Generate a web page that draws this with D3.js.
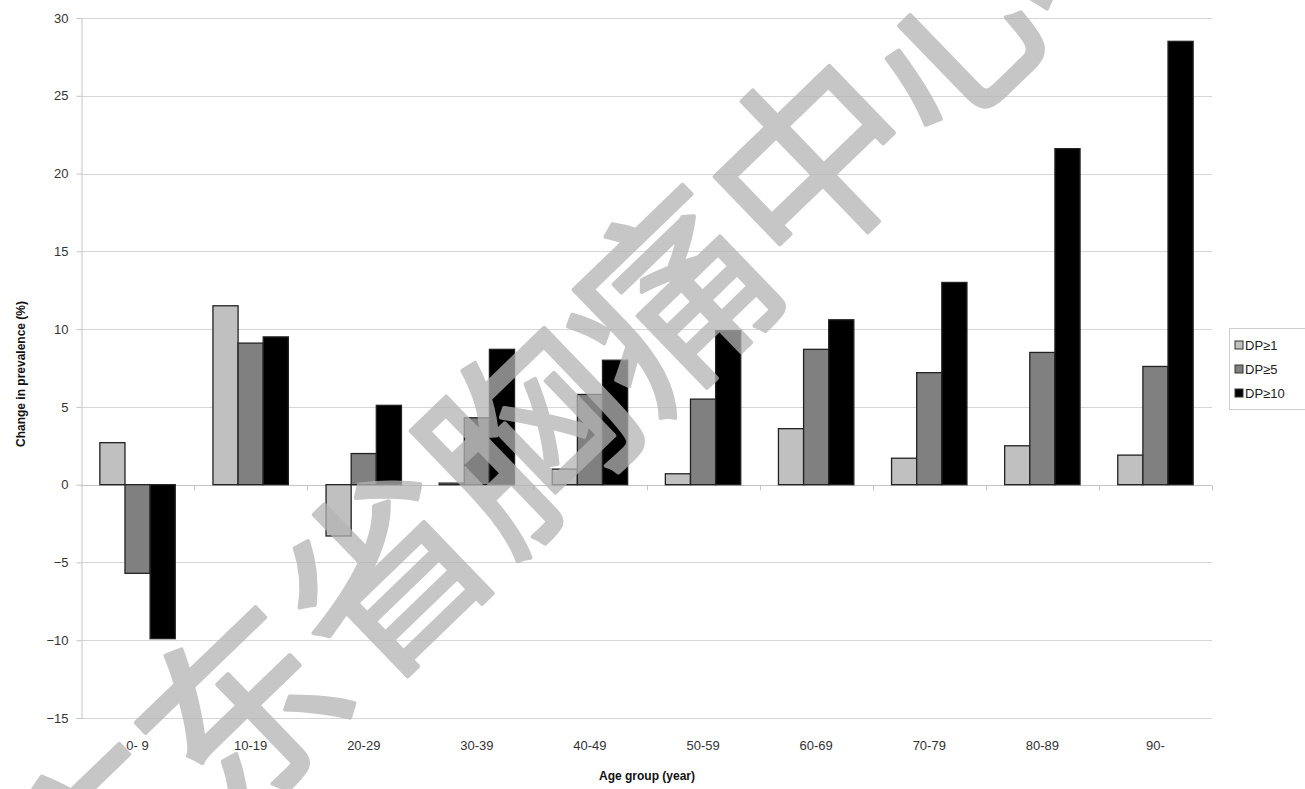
<!DOCTYPE html>
<html>
<head>
<meta charset="utf-8">
<script src="https://cdn.jsdelivr.net/npm/d3@7/dist/d3.min.js"></script>
<style>
  html, body { margin: 0; padding: 0; background: #fff; overflow: hidden; }
  svg { display: block; }
</style>
</head>
<body>
<script>
// Age groups on the x axis
const categories = ["0- 9", "10-19", "20-29", "30-39", "40-49", "50-59", "60-69", "70-79", "80-89", "90-"];
// Series names
const series = ["DP≥1", "DP≥5", "DP≥10"];
// Change in prevalence (%) per series
const dp1  = [2.7, 11.5, -3.3, 0.1, 1.0, 0.7, 3.6, 1.7, 2.5, 1.9];
const dp5  = [-5.7, 9.1, 2.0, 4.3, 5.8, 5.5, 8.7, 7.2, 8.5, 7.6];
const dp10 = [-9.9, 9.5, 5.1, 8.7, 8.0, 9.9, 10.6, 13.0, 21.6, 28.5];
const yTicks = [-15, -10, -5, 0, 5, 10, 15, 20, 25, 30];
const watermark = "广东省胸痛中心";

const values = [dp1, dp5, dp10];
const fills = ["#c0c0c0", "#808080", "#000000"];

const W = 1305, H = 789;
const svg = d3.select("body").append("svg").attr("width", W).attr("height", H);

const plotLeft = 81, plotRight = 1212, plotTop = 18, plotBottom = 718;

const y = d3.scaleLinear().domain([-15, 30]).range([plotBottom, plotTop]);
const x0 = d3.scaleBand().domain(categories).range([plotLeft, plotRight]).padding(0);
const x1 = d3.scaleBand().domain(series).range([0, x0.bandwidth()]).paddingInner(0).paddingOuter(0.75);

const font = "'Liberation Sans', Arial, sans-serif";

// horizontal gridlines
svg.append("g").selectAll("line").data(yTicks).join("line")
  .attr("x1", plotLeft).attr("x2", plotRight)
  .attr("y1", d => Math.round(y(d)) + 0.5).attr("y2", d => Math.round(y(d)) + 0.5)
  .attr("stroke", "#d6d6d6").attr("stroke-width", 1);

// y axis
const yAxis = d3.axisLeft(y).tickValues(yTicks).tickSize(5).tickPadding(8);
const gy = svg.append("g").attr("transform", `translate(${plotLeft + 0.5},0)`).call(yAxis);
gy.select(".domain").attr("stroke", "#c4c4c4");
gy.selectAll(".tick line").attr("stroke", "#c4c4c4");
gy.selectAll(".tick text").attr("font-family", font).attr("font-size", 13).attr("fill", "#333");

// category axis along zero
const gx = svg.append("g").attr("transform", `translate(0,${Math.round(y(0)) + 0.5})`);
gx.append("line").attr("x1", plotLeft).attr("x2", plotRight).attr("stroke", "#c4c4c4");
gx.selectAll(".cat-tick").data(categories).join("line")
  .attr("class", "cat-tick")
  .attr("x1", d => Math.round(x0(d) + x0.step()) + 0.5)
  .attr("x2", d => Math.round(x0(d) + x0.step()) + 0.5)
  .attr("y1", 0).attr("y2", 5).attr("stroke", "#c4c4c4");

// category labels at the bottom
svg.append("g").selectAll("text").data(categories).join("text")
  .attr("x", d => x0(d) + x0.bandwidth() / 2)
  .attr("y", 750)
  .attr("text-anchor", "middle")
  .attr("font-family", font).attr("font-size", 13).attr("fill", "#333")
  .text(d => d);

// bars
const groups = svg.append("g").selectAll("g").data(categories).join("g")
  .attr("transform", d => `translate(${x0(d)},0)`);
groups.selectAll("rect")
  .data((c, ci) => series.map((s, si) => ({ s, si, v: values[si][ci] })))
  .join("rect")
  .attr("x", d => x1(d.s))
  .attr("width", x1.bandwidth())
  .attr("y", d => y(Math.max(0, d.v)))
  .attr("height", d => Math.abs(y(d.v) - y(0)))
  .attr("fill", d => fills[d.si])
  .attr("stroke", "#222").attr("stroke-width", 1.3);

// axis titles
svg.append("text").attr("x", 647).attr("y", 780).attr("text-anchor", "middle")
  .attr("font-family", font).attr("font-size", 12).attr("font-weight", "bold").attr("fill", "#111")
  .text("Age group (year)");
svg.append("text").attr("transform", "translate(25,374) rotate(-90)").attr("text-anchor", "middle")
  .attr("font-family", font).attr("font-size", 12).attr("font-weight", "bold").attr("fill", "#111")
  .text("Change in prevalence (%)");

// legend
const lg = svg.append("g").attr("transform", "translate(1229,328)");
lg.append("rect").attr("x", 0.5).attr("y", 0.5).attr("width", 90).attr("height", 81)
  .attr("fill", "#fff").attr("stroke", "#cfcfcf");
const li = lg.selectAll("g").data(series).join("g")
  .attr("transform", (d, i) => `translate(0,${17 + i * 24})`);
li.append("rect").attr("x", 6).attr("y", -4).attr("width", 8).attr("height", 8)
  .attr("fill", (d, i) => fills[i]).attr("stroke", "#333").attr("stroke-width", 1);
li.append("text").attr("x", 16).attr("y", 5)
  .attr("font-family", font).attr("font-size", 13).attr("fill", "#222")
  .text(d => d);

// watermark across the chart
svg.append("text")
  .attr("transform", "translate(518,428) rotate(-44)")
  .attr("text-anchor", "middle").attr("dominant-baseline", "central")
  .attr("font-family", "'Noto Sans CJK SC', sans-serif")
  .attr("font-size", 198).attr("font-weight", "normal")
  .attr("fill", "#b4b4b4").attr("stroke", "#b4b4b4").attr("stroke-width", 4)
  .attr("stroke-linejoin", "round")
  .attr("opacity", 0.75)
  .text(watermark);
</script>
</body>
</html>
